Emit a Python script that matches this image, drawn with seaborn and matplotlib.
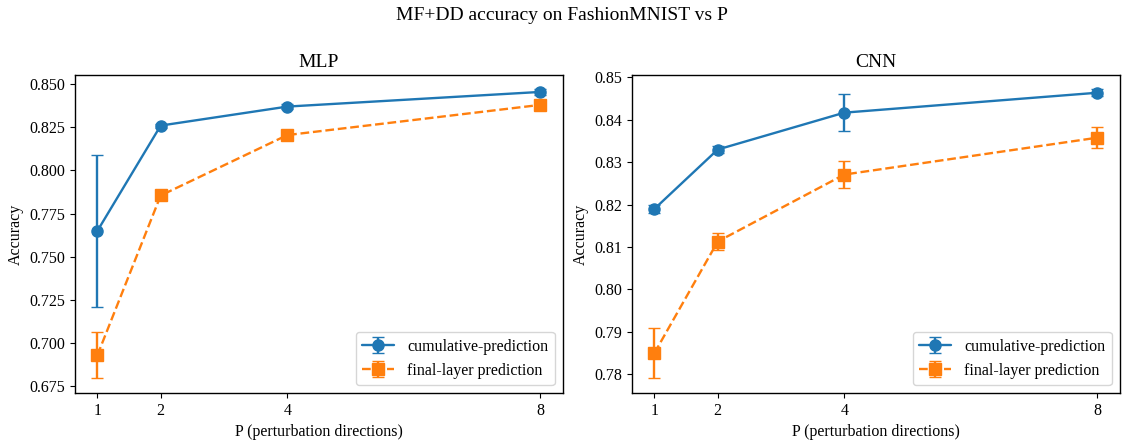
import matplotlib
matplotlib.use("Agg")
import matplotlib.pyplot as plt
import seaborn as sns
import numpy as np

P = [1, 2, 4, 8]

mlp_cum = [0.765, 0.826, 0.837, 0.8455]
mlp_cum_err = [0.044, 0.0012, 0.0015, 0.0015]
mlp_fin = [0.693, 0.7855, 0.8205, 0.838]
mlp_fin_err = [0.0135, 0.0012, 0.0012, 0.0012]

cnn_cum = [0.819, 0.833, 0.8417, 0.8464]
cnn_cum_err = [0.0009, 0.0009, 0.0044, 0.0008]
cnn_fin = [0.785, 0.8113, 0.8271, 0.8358]
cnn_fin_err = [0.0060, 0.0021, 0.0032, 0.0025]

titles = ["MLP", "CNN"]
labels = ["cumulative-prediction", "final-layer prediction"]

sns.set_style("ticks")
plt.rcParams.update({
    "font.family": ["Liberation Serif", "DejaVu Serif"],
    "axes.edgecolor": "black",
    "xtick.color": "black",
    "ytick.color": "black",
    "text.color": "black",
    "axes.labelcolor": "black",
    "axes.linewidth": 1.0,
    "xtick.direction": "out",
    "ytick.direction": "out",
})
pal = sns.color_palette("tab10")

fig, axes = plt.subplots(1, 2, figsize=(11.23, 4.43), dpi=100)
fig.subplots_adjust(left=0.067, right=0.997, bottom=0.113, top=0.831, wspace=0.143)

data = [
    (mlp_cum, mlp_cum_err, mlp_fin, mlp_fin_err),
    (cnn_cum, cnn_cum_err, cnn_fin, cnn_fin_err),
]

fs = 11.5
for ax, title, (c, ce, f, fe) in zip(axes, titles, data):
    ax.errorbar(P, c, yerr=ce, fmt="-o", color=pal[0], capsize=4, lw=1.7,
                markersize=8, label=labels[0])
    ax.errorbar(P, f, yerr=fe, fmt="--s", color=pal[1], capsize=4, lw=1.7,
                markersize=8, label=labels[1])
    ax.set_xticks(P)
    ax.set_xticklabels([str(p) for p in P])
    ax.set_title(title, fontsize=14, color="black")
    ax.set_xlabel("P (perturbation directions)", fontsize=fs)
    ax.set_ylabel("Accuracy", fontsize=fs)
    ax.tick_params(labelsize=fs, colors="black")
    leg = ax.legend(loc="lower right", fontsize=fs)
    for t in leg.get_texts():
        t.set_color("black")

axes[0].yaxis.set_major_formatter(matplotlib.ticker.FormatStrFormatter("%.3f"))
axes[1].yaxis.set_major_formatter(matplotlib.ticker.FormatStrFormatter("%.2f"))

fig.suptitle("MF+DD accuracy on FashionMNIST vs P", fontsize=14, y=0.985, color="black")
fig.savefig("out.png", dpi=100)
